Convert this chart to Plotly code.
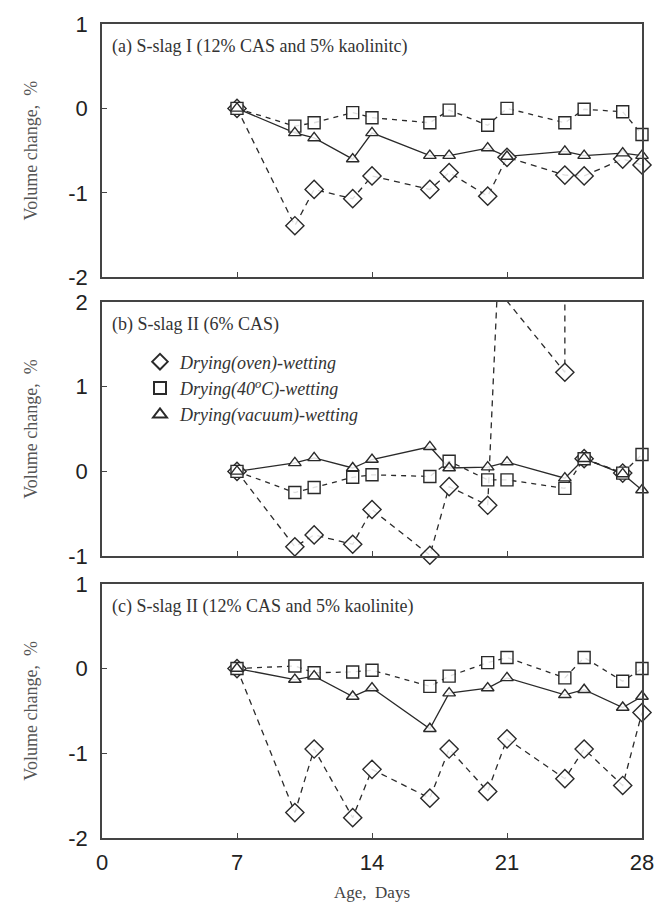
import plotly.graph_objects as go

# ---------------- data ----------------
days = [7, 10, 11, 13, 14, 17, 18, 20, 21, 24, 25, 27, 28]

# (a) S-slag I (12% CAS and 5% kaolinite)
a_oven = [0, -1.39, -0.96, -1.07, -0.80, -0.96, -0.76, -1.04, -0.58, -0.79, -0.80, -0.60, -0.67]
a_40c = [0, -0.21, -0.17, -0.05, -0.11, -0.17, -0.02, -0.20, 0.0, -0.17, -0.01, -0.04, -0.31]
a_vac = [0, -0.29, -0.35, -0.60, -0.29, -0.56, -0.56, -0.47, -0.57, -0.51, -0.56, -0.53, -0.56]

# (b) S-slag II (6% CAS) -- oven series runs off the top of the chart
b_oven_days = [7, 10, 11, 13, 14, 17, 18, 20, 20.5, 24, 24, 25, 25, 27]
b_oven = [0, -0.89, -0.75, -0.86, -0.45, -0.99, -0.18, -0.40, 2.15, 1.17, 3.2, None, 0.15, -0.02]
b_40c = [0, -0.25, -0.19, -0.07, -0.04, -0.06, 0.12, -0.10, -0.10, -0.20, 0.15, -0.02, 0.20]
b_vac = [0, 0.10, 0.16, 0.04, 0.14, 0.29, 0.04, 0.05, 0.11, -0.08, 0.15, -0.03, -0.22]

# (c) S-slag II (12% CAS and 5% kaolinite)
c_oven = [0, -1.70, -0.95, -1.76, -1.19, -1.53, -0.95, -1.45, -0.83, -1.30, -0.95, -1.38, -0.52]
c_40c = [0, 0.03, -0.05, -0.04, -0.02, -0.21, -0.09, 0.07, 0.13, -0.11, 0.13, -0.15, 0.0]
c_vac = [0, -0.13, -0.09, -0.33, -0.23, -0.71, -0.29, -0.23, -0.11, -0.31, -0.25, -0.46, -0.33]

series_names = ["Drying(oven)-wetting", "Drying(40<sup>o</sup>C)-wetting", "Drying(vacuum)-wetting"]
panel_titles = ["(a) S-slag I (12% CAS and 5% kaolinitc)",
                "(b) S-slag II (6% CAS)",
                "(c) S-slag II (12% CAS and 5% kaolinite)"]
y_ranges = [[-2, 1], [-1, 2], [-2, 1]]
y_ticks = [[-2, -1, 0, 1], [-1, 0, 1, 2], [-2, -1, 0, 1]]
x_ticks = [0, 7, 14, 21, 28]

# ---------------- style ----------------
INK = "#2a2a2a"
symbols = ["diamond", "square", "triangle-up"]
dashes = ["6px,5px", "5px,5px", "solid"]
msizes = [14, 12, 11]

W, H = 669, 911
L, R, T, B = 102, 27, 22, 66
plot_h = H - T - B
panels_px = [(22, 278), (303, 560), (588, 845)]
def dom(top, bot):
    return [(H - B - bot) / plot_h, (H - B - top) / plot_h]

fig = go.Figure()

panel_data = [
    ([days, days, days], [a_oven, a_40c, a_vac]),
    ([b_oven_days, days, days], [b_oven, b_40c, b_vac]),
    ([days, days, days], [c_oven, c_40c, c_vac]),
]

for p, (xs, ys) in enumerate(panel_data):
    xa = "x" if p == 0 else f"x{p+1}"
    ya = "y" if p == 0 else f"y{p+1}"
    ymin, ymax = y_ranges[p]
    for s in range(3):
        x, y = xs[s], ys[s]
        fig.add_trace(go.Scatter(
            x=x, y=y, mode="lines", xaxis=xa, yaxis=ya, showlegend=False,
            connectgaps=False, hoverinfo="skip",
            line=dict(color=INK, width=1.3, dash=dashes[s])))
    for s in range(3):
        x, y = xs[s], ys[s]
        mx = [xi for xi, yi in zip(x, y) if yi is not None and ymin - 0.05 <= yi <= ymax]
        my = [yi for xi, yi in zip(x, y) if yi is not None and ymin - 0.05 <= yi <= ymax]
        fig.add_trace(go.Scatter(
            x=mx, y=my, mode="markers", xaxis=xa, yaxis=ya,
            name=series_names[s], showlegend=(p == 1), cliponaxis=False,
            marker=dict(symbol=symbols[s], size=msizes[s], color="rgba(255,255,255,0.85)",
                        line=dict(width=1.4, color=INK))))

axis_common = dict(showline=True, linecolor="#444", linewidth=1.6, mirror=True,
                   ticks="inside", ticklen=5, tickcolor="#444", showgrid=False,
                   zeroline=False)

layout = dict(
    width=W, height=H, margin=dict(l=L, r=R, t=T, b=B),
    paper_bgcolor="white", plot_bgcolor="white",
    showlegend=True,
    legend=dict(x=(140 - L) / (W - L - R), y=dom(*panels_px[1])[1] - 42 / plot_h,
                xanchor="left", yanchor="top", bgcolor="rgba(0,0,0,0)",
                font=dict(family="Liberation Serif", size=18, color="#333", style="italic"),
                itemsizing="constant", tracegroupgap=0),
)

for p in range(3):
    xkey = "xaxis" if p == 0 else f"xaxis{p+1}"
    ykey = "yaxis" if p == 0 else f"yaxis{p+1}"
    yanchor = "y" if p == 0 else f"y{p+1}"
    xanchor = "x" if p == 0 else f"x{p+1}"
    d = dom(*panels_px[p])
    layout[xkey] = dict(axis_common, range=[0, 28], anchor=yanchor, domain=[0, 1],
                        tickvals=x_ticks, showticklabels=(p == 2),
                        tickfont=dict(family="Liberation Sans", size=22, color="#222"),
                        ticklabelstandoff=4)
    if p == 2:
        layout[xkey]["title"] = dict(text="Age,  Days", standoff=12,
                                     font=dict(family="Liberation Serif", size=17, color="#444"))
    layout[ykey] = dict(axis_common, range=y_ranges[p], anchor=xanchor, domain=d,
                        tickvals=y_ticks[p],
                        ticktext=[("-" + str(abs(v))) if v < 0 else str(v) for v in y_ticks[p]],
                        tickfont=dict(family="Liberation Sans", size=22, color="#222"),
                        ticklabelstandoff=8,
                        title=dict(text="Volume change,  %", standoff=26,
                                   font=dict(family="Liberation Serif", size=18, color="#555")))

fig.update_layout(**layout)

for p in range(3):
    d = dom(*panels_px[p])
    fig.add_annotation(text=panel_titles[p], xref="paper", yref="paper",
                       x=(110 - L) / (W - L - R), y=d[1] - 10 / plot_h,
                       xanchor="left", yanchor="top", showarrow=False,
                       font=dict(family="Liberation Serif", size=18, color="#333"))

fig.write_html("out.html")
